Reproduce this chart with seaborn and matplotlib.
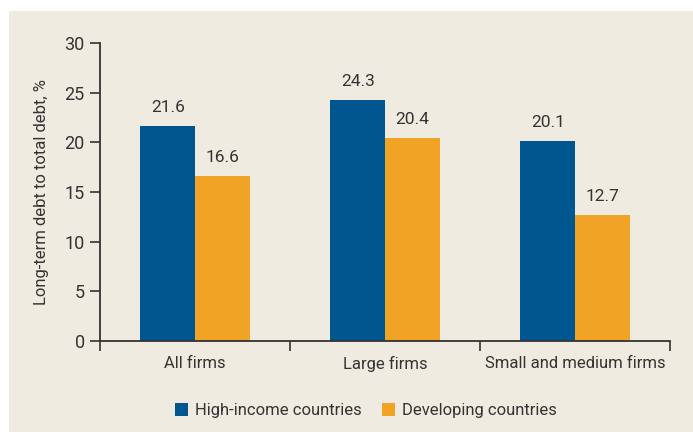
import matplotlib
matplotlib.use("Agg")
import matplotlib.pyplot as plt
from matplotlib.patches import Rectangle
import seaborn as sns
import pandas as pd

categories = ["All firms", "Large firms", "Small and medium firms"]
series_names = ["High-income countries", "Developing countries"]
high_income = [21.6, 24.3, 20.1]
developing = [16.6, 20.4, 12.7]
y_ticks = [0, 5, 10, 15, 20, 25, 30]

BG = "#efebe1"
BLUE = "#00568f"
ORANGE = "#f0a324"
TEXT = "#333333"
FS = 12

sns.set_theme(style="white")
plt.rcParams["font.family"] = ["Roboto", "DejaVu Sans"]

df = pd.DataFrame({
    "category": categories * 2,
    "series": [series_names[0]] * 3 + [series_names[1]] * 3,
    "value": high_income + developing,
})

fig = plt.figure(figsize=(6.93, 4.32), dpi=100)
fig.patch.set_facecolor("white")
fig.patches.append(Rectangle((9 / 693, 0), 1, 1 - 11 / 432, transform=fig.transFigure,
                             facecolor=BG, edgecolor="none", zorder=-10))

ax = fig.add_axes([100 / 693, 1 - 341 / 432, 570 / 693, 298 / 432])
ax.set_facecolor(BG)

sns.barplot(data=df, x="category", y="value", hue="series", order=categories,
            hue_order=series_names, palette=[BLUE, ORANGE], width=0.574,
            saturation=1, ax=ax, legend=False, linewidth=0)

for container in ax.containers:
    ax.bar_label(container, fmt="%.1f", padding=8, fontsize=FS + 0.5, color=TEXT)

ax.set_xlim(-0.5, 2.5)
ax.set_ylim(0, 30)
ax.set_yticks(y_ticks)
ax.tick_params(axis="y", direction="out", length=7, width=1.2, color=TEXT,
               labelsize=FS + 1, labelcolor=TEXT, left=True, pad=4)

# category boundaries carry the tick marks, centres carry the labels
ax.set_xticks([-0.5, 0.5, 1.5, 2.5])
ax.set_xticklabels([])
ax.set_xticks([0, 1, 2], minor=True)
ax.set_xticklabels(categories, minor=True)
ax.tick_params(axis="x", which="major", direction="out", length=7, width=1.2,
               color=TEXT, bottom=True)
ax.tick_params(axis="x", which="minor", length=0, labelsize=FS, labelcolor=TEXT, pad=11)

ax.set_xlabel("")
ax.set_ylabel("Long-term debt to total debt, %", fontsize=FS, color=TEXT, labelpad=11)

for side in ["top", "right"]:
    ax.spines[side].set_visible(False)
for side in ["left", "bottom"]:
    ax.spines[side].set_color(TEXT)
    ax.spines[side].set_linewidth(1.3)

handles = [Rectangle((0, 0), 1, 1, facecolor=c, edgecolor="none") for c in (BLUE, ORANGE)]
fig.legend(handles, series_names, loc="center", bbox_to_anchor=(0.528, 0.05), ncol=2,
           frameon=False, fontsize=FS, labelcolor=TEXT, handlelength=0.8,
           handleheight=0.8, handletextpad=0.4, columnspacing=1.2)

fig.savefig("out.png", dpi=100, facecolor=fig.get_facecolor())
